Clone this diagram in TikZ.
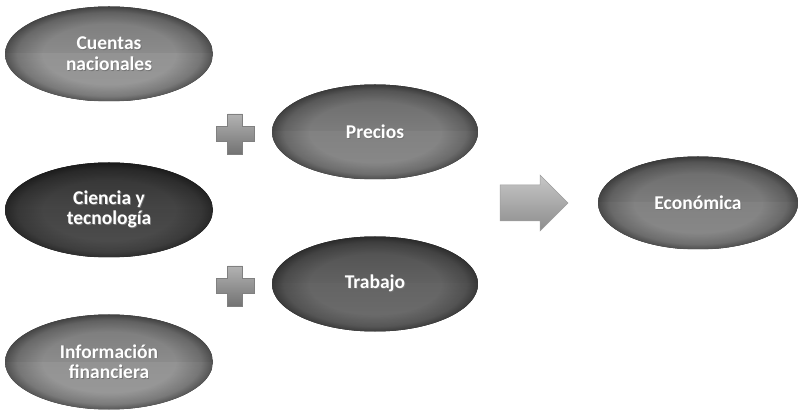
\documentclass[tikz,border=0pt]{standalone}
\usepackage{fontspec}
\setmainfont{Carlito}
\usetikzlibrary{shapes.geometric,fadings}

% darkening that only shows towards the rim of an ellipse
\pgfdeclareradialshading{rimshade}{\pgfpointorigin}{color(0bp)=(black); color(16bp)=(black); color(22bp)=(black!80!white); color(25bp)=(black!55!white); color(50bp)=(black!55!white)}
\pgfdeclarefading{rim}{\pgfuseshading{rimshade}}

\definecolor{cLight}{HTML}{8C8C8C}
\definecolor{cMid}{HTML}{7A7A7A}
\definecolor{cDeep}{HTML}{5A5A5A}
\definecolor{cDark}{HTML}{383838}

% white label with a soft dark drop shadow
\newcommand\shw[1]{\leavevmode\rlap{\kern0.9pt\raisebox{-0.9pt}{\textcolor{black!55}{#1}}}#1}

\tikzset{
  blob/.style={ellipse, minimum width=208pt, minimum height=95pt, inner sep=0pt,
    text=white, align=center, font=\bfseries\fontsize{19.5}{20.5}\selectfont,
    path picture={
      \fill[top color=#1!85!black, bottom color=#1!82!white]
        (path picture bounding box.north west) rectangle (path picture bounding box.east);
      \fill[top color=#1!94!white, bottom color=#1!88!white]
        (path picture bounding box.west) rectangle (path picture bounding box.south east);
      \fill[black, path fading=rim, fit fading=true]
        (path picture bounding box.south west) rectangle (path picture bounding box.north east);
    }},
  plusmark/.style={top color=black!30, bottom color=black!55, draw=black!50, line width=0.5pt},
  arrowmark/.style={top color=black!22, bottom color=black!45, draw=black!38, line width=0.5pt},
}

\begin{document}
\begin{tikzpicture}[x=1pt,y=1pt]
  \useasboundingbox (0,0) rectangle (799,412);

  % left column
  \node[blob=cLight] (cuentas) at (109,358) {\shw{Cuentas}\\\shw{nacionales}};
  \node[blob=cDark] (ciencia) at (109,202) {\shw{Ciencia y}\\\shw{tecnología}};
  \node[blob=cLight] (info) at (109,50) {\shw{Información}\\\shw{financiera}};

  % middle column
  \node[blob=cMid, minimum width=206pt] (precios) at (375,280) {\shw{Precios}};
  \node[blob=cDeep, minimum width=206pt] (trabajo) at (375,128) {\shw{Trabajo}};

  % result
  \node[blob=cMid, minimum width=200pt, minimum height=93pt] (economica) at (698,209) {\shw{Económica}};

  % plus signs
  \foreach \py in {278,126}{
    \begin{scope}[shift={(235,\py)}]
      \path[plusmark] (-7.5,20) -- (7.5,20) -- (7.5,7.5) -- (19,7.5) -- (19,-7.5)
        -- (7.5,-7.5) -- (7.5,-20) -- (-7.5,-20) -- (-7.5,-7.5) -- (-19,-7.5)
        -- (-19,7.5) -- (-7.5,7.5) -- cycle;
    \end{scope}
  }

  % block arrow towards the result
  \begin{scope}[shift={(500,209)}]
    \path[arrowmark] (0,18) -- (40,18) -- (40,28) -- (68,0) -- (40,-28)
      -- (40,-18) -- (0,-18) -- cycle;
  \end{scope}
\end{tikzpicture}
\end{document}
